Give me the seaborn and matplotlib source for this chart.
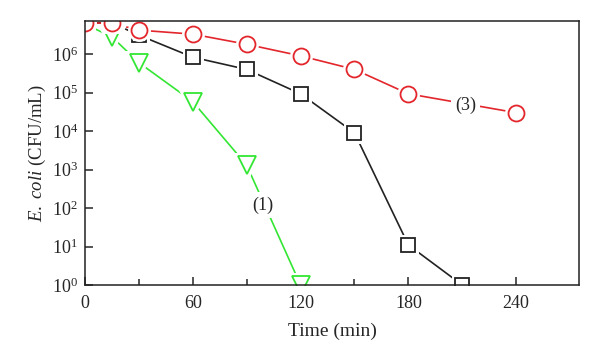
import matplotlib
matplotlib.use('Agg')
import matplotlib.pyplot as plt
import seaborn as sns
from matplotlib.ticker import FixedLocator, LogLocator, NullLocator

# data
time_1 = [0, 15, 30, 60, 90, 120]
cfu_1 = [6.0e6, 2.8e6, 6.0e5, 5.8e4, 1.3e3, 1.0]

time_2 = [0, 15, 30, 60, 90, 120, 150, 180, 210]
cfu_2 = [6.5e6, 6.5e6, 3.1e6, 8.3e5, 4.0e5, 9.3e4, 9.0e3, 11.0, 1.0]

time_3 = [0, 15, 30, 60, 90, 120, 150, 180, 240]
cfu_3 = [6.5e6, 6.3e6, 4.2e6, 3.3e6, 1.8e6, 9.0e5, 4.0e5, 9.3e4, 3.0e4]

x_ticks = [0, 60, 120, 180, 240]
x_minor = [30, 90, 150, 210]

series = [
    (time_1, cfu_1, '#33e633', 'v', 13),
    (time_2, cfu_2, '#222222', 's', 10),
    (time_3, cfu_3, '#e3262b', 'o', 11.5),
]

sns.set_style('ticks')
plt.rcParams['font.family'] = ['Liberation Serif', 'DejaVu Serif']
plt.rcParams['mathtext.fontset'] = 'custom'
plt.rcParams['mathtext.rm'] = 'Liberation Serif'
plt.rcParams['mathtext.it'] = 'Liberation Serif:italic'

fig = plt.figure(figsize=(6, 3.64), dpi=100)
ax = fig.add_axes([0.1417, 0.217, 0.8233, 0.725])

# lines first
for t, v, c, m, ms in series:
    sns.lineplot(x=t, y=v, ax=ax, color=c, lw=1.2)

# white halo around markers, then hollow markers
for t, v, c, m, ms in series:
    sns.lineplot(x=t, y=v, ax=ax, linestyle='', marker=m, markersize=ms,
                 markerfacecolor='white', markeredgecolor='white', markeredgewidth=5)
    sns.lineplot(x=t, y=v, ax=ax, linestyle='', marker=m, markersize=ms,
                 markerfacecolor='white', markeredgecolor=c, markeredgewidth=1.3)

ax.text(99, 120, '(1)', fontsize=13, ha='center', va='center',
        bbox=dict(facecolor='white', edgecolor='none', pad=3))
ax.text(212, 4.8e4, '(3)', fontsize=13, ha='center', va='center',
        bbox=dict(facecolor='white', edgecolor='none', pad=3))

ax.set_yscale('log')
ax.set_xlim(0, 275)
ax.set_ylim(1, 7.2e6)
ax.xaxis.set_major_locator(FixedLocator(x_ticks))
ax.xaxis.set_minor_locator(FixedLocator(x_minor))
ax.yaxis.set_major_locator(LogLocator(base=10, numticks=10))
ax.yaxis.set_minor_locator(NullLocator())
ax.tick_params(which='major', direction='in', length=6, width=1.1, labelsize=13)
ax.tick_params(which='minor', direction='in', length=4, width=1.1)
ax.tick_params(axis='x', pad=7)
ax.tick_params(axis='y', pad=5)
for s in ax.spines.values():
    s.set_linewidth(1.1)
    s.set_color('#222222')
    s.set_zorder(10)

ax.set_xlabel('Time (min)', fontsize=14, labelpad=8)
ax.set_ylabel(r'$\mathit{E.\ coli}$ (CFU/mL)', fontsize=13.5, labelpad=3)

fig.savefig('out.png', dpi=100)
